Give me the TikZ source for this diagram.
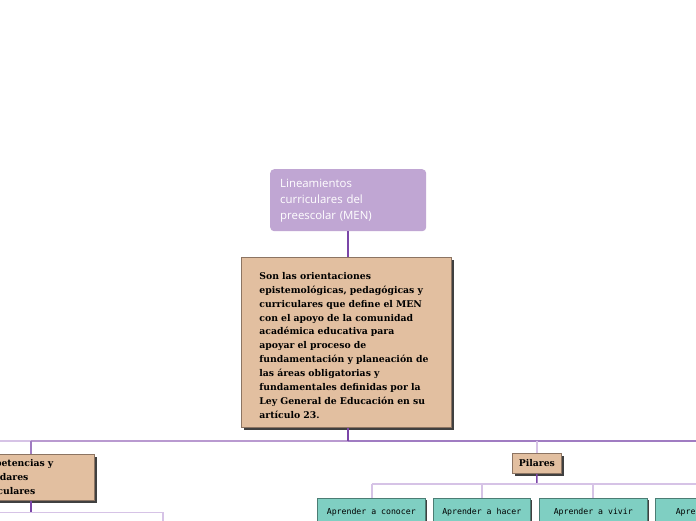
\documentclass[tikz,border=0pt]{standalone}
\usepackage{fontspec}
\usetikzlibrary{shadows}
\newfontfamily\topfont{Open Sans}
\newfontfamily\tanfont{DejaVu Serif}
\newfontfamily\tealfont{DejaVu Sans Mono}
\definecolor{toppurple}{HTML}{C0A6D3}
\definecolor{tan}{HTML}{E2BFA0}
\definecolor{tanline}{HTML}{8C7462}
\definecolor{teal}{HTML}{7FCFC2}
\definecolor{tealline}{HTML}{4C7D74}
\definecolor{darkp}{HTML}{7B46A8}
\definecolor{midp}{HTML}{A07CC2}
\definecolor{midlp}{HTML}{B99AD0}
\definecolor{lightp}{HTML}{D6C3E6}
\tikzset{
  topbox/.style={fill=toppurple, rounded corners=4pt, text=white, font=\topfont\fontsize{11.4}{16}\selectfont,
    align=left, anchor=north west, inner xsep=10pt, inner ysep=0pt},
  tanbox/.style={fill=tan, draw=tanline, line width=0.8pt, font=\tanfont\bfseries\fontsize{9.3}{13.9}\selectfont,
    align=left, inner ysep=0pt, drop shadow={shadow xshift=2.5pt, shadow yshift=-2.5pt, fill=black!75, opacity=1}},
  tealbox/.style={fill=teal, draw=tealline, line width=0.6pt, font=\tealfont\fontsize{8.2}{10}\selectfont,
    anchor=north west, inner xsep=8.5pt, inner ysep=0pt, minimum height=27pt, text depth=0pt,
    drop shadow={shadow xshift=2pt, shadow yshift=-1.5pt, fill=black!75, opacity=1}},
  trunk/.style={draw=darkp, line width=2pt},
  branch/.style={draw=midp, line width=2pt},
  twig/.style={draw=lightp, line width=1.5pt},
}
\begin{document}
\begin{tikzpicture}[x=1pt,y=-1pt]
\useasboundingbox (0,0) rectangle (696,520);
\clip (0,0) rectangle (696,520);
\fill[white] (0,0) rectangle (696,520);
% connectors
\coordinate (hl) at (0,440.5);
\coordinate (hr) at (696,440.5);
\coordinate (jc) at (348,440.5);
\coordinate (jl) at (31,440.5);
\coordinate (jp) at (537,440.5);
\draw[draw=lightp, line width=2pt] (hl) -- (jl);
\draw[draw=midlp, line width=2pt] (jl) -- (jc);
\draw[branch] (jc) -- (hr);
% nodes
\node[topbox, minimum width=156pt, minimum height=62pt, text width=136pt] (top) at (270,169)
  {Lineamientos\\curriculares del\\preescolar (MEN)};
\draw[trunk] (top.south -| 348,0) -- (348,258) coordinate (mtop);
\node[tanbox, anchor=north west, minimum width=210pt, minimum height=170pt, text width=180pt, inner xsep=15pt] (main) at (241,257)
  {\rule{0pt}{13pt}\hspace*{3pt}Son las orientaciones\\\hspace*{3pt}epistemológicas, pedagógicas y\\\hspace*{3pt}curriculares que define el MEN\\\hspace*{3pt}con el apoyo de la comunidad\\\hspace*{3pt}académica educativa para\\\hspace*{3pt}apoyar el proceso de\\\hspace*{3pt}fundamentación y planeación de\\\hspace*{3pt}las áreas obligatorias y\\\hspace*{3pt}fundamentales definidas por la\\\hspace*{3pt}Ley General de Educación en su\\\hspace*{3pt}artículo 23.};
\draw[trunk] (main.south -| jc) -- (jc);
% left box
\draw[draw=midp, line width=1.2pt] (jl) -- (31,454) coordinate (ltop);
\node[tanbox, anchor=north east, minimum width=140pt, minimum height=46pt, text width=122pt, inner xsep=9pt, inner ysep=0pt] (left) at (95,454)
  {\hspace*{8pt}Competencias y\\\hspace*{8pt}estándares\\\hspace*{8pt}curriculares};
\draw[trunk, line width=1.3pt] (left.south -| jl) -- (31,512.5) coordinate (lj);
\coordinate (l0) at (0,512.5);
\coordinate (l1) at (163,512.5);
\coordinate (l2) at (163,522);
\draw[twig] (l0) -- (l1) -- (l2);
% pilares
\draw[draw=lightp, line width=2pt] (jp) -- (537,453);
\node[tanbox, anchor=north west, minimum width=49pt, minimum height=20pt, inner xsep=2pt, align=center] (pil) at (512,453) {Pilares};
\coordinate (pj) at (537,484);
\draw[trunk, line width=1.5pt] (pil.south) -- (pj);
\coordinate (b1) at (372,484);
\coordinate (b2) at (482,484);
\coordinate (b3) at (593,484);
\coordinate (b4) at (696,484);
\draw[twig] (b1) -- (b4);
\node[tealbox, minimum width=108pt] (t1) at (317,498) {Aprender a conocer};
\node[tealbox, minimum width=97pt] (t2) at (433,498) {Aprender a hacer};
\node[tealbox, minimum width=108pt] (t3) at (539,498) {Aprender a vivir};
\node[tealbox, minimum width=110pt] (t4) at (655,498) {Aprender a ser};
\draw[twig] (b1) -- (b1 |- t1.north);
\draw[twig] (b2) -- (b2 |- t2.north);
\draw[twig] (b3) -- (b3 |- t3.north);
\end{tikzpicture}
\end{document}
